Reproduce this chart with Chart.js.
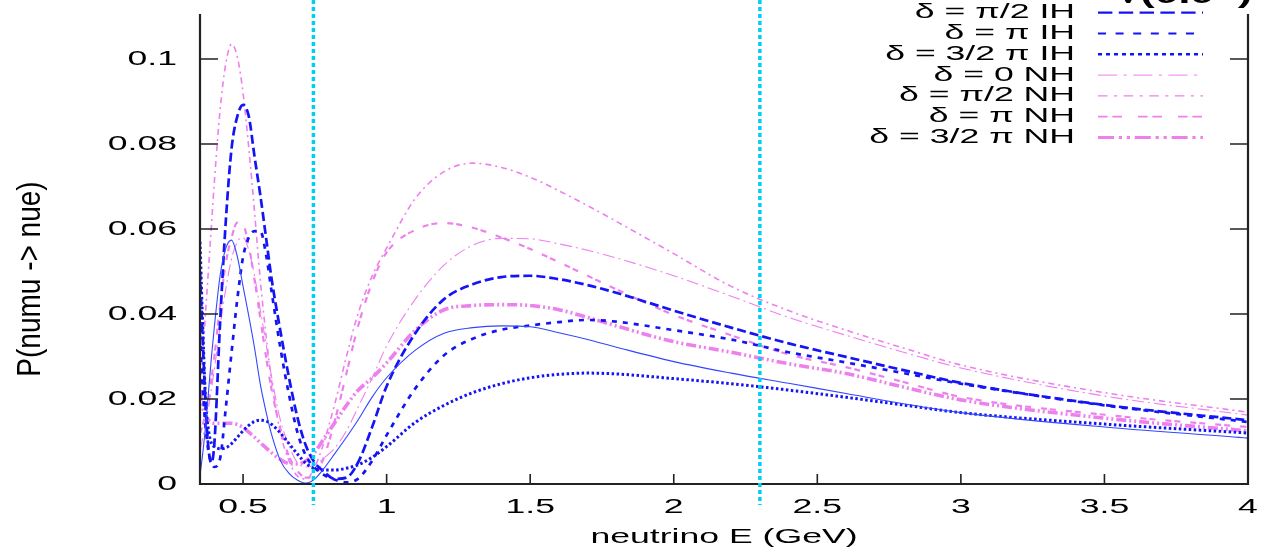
<!DOCTYPE html>
<html><head><meta charset="utf-8">
<script src="https://cdn.jsdelivr.net/npm/chart.js@4.4.1/dist/chart.umd.min.js"></script>
<style>html,body{margin:0;padding:0;background:#fff;overflow:hidden}</style>
</head><body>
<canvas id="c" width="1267" height="549"></canvas>
<script>
// ---------------- data ----------------
const energies = [0.35,0.36,0.37,0.38,0.39,0.40,0.42,0.44,0.46,0.48,0.50,0.52,0.54,0.56,0.58,0.60,0.63,0.66,0.69,0.72,0.75,0.78,0.82,0.86,0.90,0.95,1.0,1.1,1.2,1.3,1.4,1.5,1.6,1.7,1.8,2.0,2.2,2.4,2.6,2.8,3.0,3.5,4.0];

const pDelta0IH    = [0.002,0.0075,0.014,0.022,0.030,0.037,0.049,0.0555,0.0574,0.0535,0.0465,0.0395,0.032,0.0235,0.017,0.0115,0.0055,0.0025,0.0009,0.0002,0.0012,0.0035,0.0072,0.011,0.015,0.0205,0.025,0.0315,0.0355,0.0368,0.0372,0.037,0.0356,0.034,0.0322,0.0288,0.0261,0.0237,0.0213,0.0189,0.0168,0.0134,0.0108];
const pDeltaHalfIH = [0.050,0.033,0.018,0.008,0.005,0.0095,0.038,0.062,0.079,0.0865,0.0892,0.0865,0.077,0.068,0.058,0.048,0.036,0.025,0.0155,0.0088,0.005,0.003,0.0012,0.0015,0.005,0.0135,0.023,0.0355,0.0435,0.047,0.0487,0.049,0.0482,0.0468,0.045,0.0408,0.0368,0.0331,0.0299,0.0268,0.0238,0.0186,0.015];
const pDeltaPiIH   = [0.035,0.022,0.013,0.0075,0.005,0.004,0.006,0.018,0.031,0.0435,0.0534,0.058,0.0595,0.0595,0.054,0.045,0.032,0.021,0.012,0.0065,0.0038,0.0022,0.001,0.0004,0.0012,0.0055,0.0115,0.0225,0.0303,0.0342,0.0363,0.0373,0.0381,0.0386,0.0382,0.0362,0.034,0.031,0.0286,0.0261,0.0236,0.0185,0.0146];
const pDelta3HalfIH= [0.057,0.036,0.019,0.0125,0.0095,0.0088,0.0083,0.0085,0.0095,0.011,0.0125,0.0138,0.0147,0.015,0.0148,0.014,0.012,0.0095,0.007,0.0048,0.0036,0.0033,0.0033,0.0037,0.0045,0.0063,0.0088,0.0145,0.0185,0.0215,0.0236,0.025,0.0258,0.0261,0.0259,0.0248,0.0236,0.0221,0.0204,0.0186,0.0168,0.0141,0.012];
const pDelta0NH    = [0.008,0.011,0.0145,0.018,0.0225,0.027,0.037,0.046,0.053,0.057,0.058,0.055,0.049,0.041,0.033,0.025,0.015,0.009,0.005,0.004,0.0045,0.006,0.0085,0.0125,0.018,0.025,0.0325,0.0435,0.0515,0.0562,0.0578,0.0577,0.0565,0.055,0.0532,0.049,0.0442,0.0392,0.035,0.031,0.0273,0.0207,0.0162];
const pDeltaHalfNH = [0.022,0.031,0.041,0.051,0.061,0.071,0.088,0.099,0.1035,0.1005,0.092,0.079,0.064,0.048,0.035,0.024,0.012,0.0055,0.0018,0.0012,0.004,0.0095,0.019,0.030,0.040,0.049,0.0555,0.0672,0.0735,0.0755,0.0745,0.0722,0.069,0.0655,0.0618,0.0542,0.0465,0.0408,0.0362,0.032,0.028,0.0215,0.0169];
const pDeltaPiNH   = [0.012,0.014,0.017,0.020,0.025,0.030,0.042,0.052,0.058,0.0615,0.061,0.056,0.048,0.039,0.030,0.022,0.013,0.0065,0.003,0.0015,0.002,0.006,0.015,0.026,0.037,0.0475,0.0545,0.0598,0.0614,0.0603,0.058,0.0553,0.0522,0.049,0.0458,0.0398,0.035,0.0305,0.0275,0.024,0.0205,0.0163,0.0134];
const pDelta3HalfNH= [0.022,0.018,0.016,0.015,0.0145,0.0143,0.0143,0.0143,0.0143,0.014,0.0133,0.0122,0.011,0.0097,0.0085,0.0073,0.0058,0.0048,0.0047,0.0055,0.0075,0.0105,0.0145,0.0185,0.022,0.025,0.0285,0.0362,0.041,0.042,0.0422,0.042,0.041,0.0392,0.0372,0.0335,0.031,0.0283,0.026,0.0228,0.0198,0.0155,0.0125];

const seriesLabels = ["δ = 0 IH","δ = π/2 IH","δ = π IH","δ = 3/2 π IH","δ = 0 NH","δ = π/2 NH","δ = π NH","δ = 3/2 π NH"];
const xTickValues = [0.5,1,1.5,2,2.5,3,3.5,4];
const xTickLabels = ["0.5","1","1.5","2","2.5","3","3.5","4"];
const yTickValues = [0,0.02,0.04,0.06,0.08,0.1];
const yTickLabels = ["0","0.02","0.04","0.06","0.08","0.1"];
const markerEnergies = [0.745, 2.30];
const xTitle = "neutrino E (GeV)";
const yTitle = "P(numu -> nue)";
const cornerText = "√(0.0  )";

// ---------------- styles ----------------
const BLUE = "rgb(20,20,245)", BLUE_THIN = "rgb(50,70,255)", PINK = "rgb(238,128,238)";
const styles = [
  {c:BLUE_THIN, w:1.1, d:[]},
  {c:BLUE, w:2.7, d:[9,4]},
  {c:BLUE, w:2.7, d:[5,6]},
  {c:BLUE, w:3.0, d:[2.5,2.5]},
  {c:PINK, w:1.1, d:[12,4,2,4]},
  {c:PINK, w:1.6, d:[6,4,2,4]},
  {c:PINK, w:2.2, d:[6,3,6,10]},
  {c:PINK, w:3.6, d:[10,3,2,3,2,3]}
];
const allSeries = [pDelta0IH,pDeltaHalfIH,pDeltaPiIH,pDelta3HalfIH,pDelta0NH,pDeltaHalfNH,pDeltaPiNH,pDelta3HalfNH];

const datasets = allSeries.map((arr,i)=>({
  label: seriesLabels[i],
  data: energies.map((e,k)=>({x:e,y:arr[k]})),
  borderColor: styles[i].c,
  backgroundColor: styles[i].c,
  borderWidth: styles[i].w,
  borderDash: styles[i].d,
  pointRadius: 0,
  fill: false,
  cubicInterpolationMode: 'monotone'
}));

const SX = 1.78;
const FONT = "20px 'Liberation Sans', Arial, sans-serif";
function stext(ctx, text, x, y, align, font, sx){
  ctx.save();
  ctx.font = font; ctx.textBaseline = 'middle'; ctx.textAlign = 'left';
  const w = ctx.measureText(text).width * sx;
  const left = align==='right' ? x-w : align==='center' ? x-w/2 : x;
  ctx.translate(left, y); ctx.scale(sx,1);
  ctx.fillText(text, 0, 0);
  ctx.restore();
}

const decor = {
  id:'decor',
  afterDatasetsDraw(chart){
    const ctx = chart.ctx, a = chart.chartArea;
    const xs = chart.scales.x, ys = chart.scales.y;
    ctx.save();
    // frame
    ctx.strokeStyle = "#222"; ctx.lineWidth = 2.2; ctx.setLineDash([]);
    ctx.beginPath();
    ctx.moveTo(a.left, a.top); ctx.lineTo(a.left, a.bottom); ctx.lineTo(a.right, a.bottom); ctx.lineTo(a.right, a.top);
    ctx.stroke();
    // ticks
    ctx.lineWidth = 1.6;
    ctx.beginPath();
    yTickValues.forEach(v=>{
      const y = ys.getPixelForValue(v);
      ctx.moveTo(a.left, y); ctx.lineTo(a.left+18, y);
      ctx.moveTo(a.right, y); ctx.lineTo(a.right-18, y);
    });
    xTickValues.forEach(v=>{
      const x = xs.getPixelForValue(v);
      ctx.moveTo(x, a.bottom); ctx.lineTo(x, a.bottom-10);
    });
    ctx.stroke();
    // tick labels
    ctx.fillStyle = "#000";
    yTickValues.forEach((v,i)=> stext(ctx, yTickLabels[i], 177, ys.getPixelForValue(v), 'right', FONT, SX));
    xTickValues.forEach((v,i)=> stext(ctx, xTickLabels[i], xs.getPixelForValue(v), 507, 'center', FONT, SX));
    // titles
    stext(ctx, xTitle, (a.left+a.right)/2, 537, 'center', FONT, SX);
    ctx.save();
    ctx.translate(31, 279); ctx.rotate(-Math.PI/2);
    ctx.font = FONT; ctx.textBaseline='middle'; ctx.textAlign='left';
    const tw = ctx.measureText(yTitle).width;
    ctx.scale(1.4, 1.7);
    ctx.fillText(yTitle, -tw/2, 0);
    ctx.restore();
    // legend
    seriesLabels.forEach((lab,i)=>{
      const y = 33.5 + (i-2)*20.8;
      ctx.fillStyle = "#000";
      stext(ctx, lab, 1075, y, 'right', FONT, SX);
      ctx.strokeStyle = styles[i].c; ctx.lineWidth = Math.max(1, styles[i].w*0.8);
      ctx.setLineDash(styles[i].d.map(d=>d*1.6));
      ctx.beginPath(); ctx.moveTo(1098, y); ctx.lineTo(1203, y); ctx.stroke();
    });
    ctx.setLineDash([]);
    // cropped corner text
    ctx.fillStyle = "#000";
    ctx.save();
    ctx.font = "bold 24px 'Liberation Sans', Arial, sans-serif";
    ctx.textBaseline='alphabetic'; ctx.textAlign='left';
    ctx.translate(1117, 3); ctx.scale(SX,1);
    ctx.fillText(cornerText, 0, 0);
    ctx.restore();
    // cyan markers
    ctx.strokeStyle = "rgb(0,208,240)"; ctx.lineWidth = 3.5; ctx.setLineDash([4,3]);
    markerEnergies.forEach(e=>{
      const x = xs.getPixelForValue(e);
      ctx.beginPath(); ctx.moveTo(x, 0); ctx.lineTo(x, 505); ctx.stroke();
    });
    ctx.restore();
  }
};

new Chart(document.getElementById('c'), {
  type:'line',
  data:{datasets},
  options:{
    responsive:false, animation:false, devicePixelRatio:1,
    layout:{padding:{left:0,right:19,top:14,bottom:0}},
    plugins:{legend:{display:false}, tooltip:{enabled:false}},
    scales:{
      x:{type:'linear', min:0.35, max:4,
         afterBuildTicks:s=>{s.ticks = xTickValues.map(v=>({value:v}));},
         afterFit:s=>{s.height = 65;},
         ticks:{display:false}, grid:{display:false}, border:{display:false}},
      y:{type:'linear', min:0, max:0.1106,
         afterBuildTicks:s=>{s.ticks = yTickValues.map(v=>({value:v}));},
         afterFit:s=>{s.width = 200;},
         ticks:{display:false}, grid:{display:false}, border:{display:false}}
    }
  },
  plugins:[decor]
});
</script>
</body></html>
